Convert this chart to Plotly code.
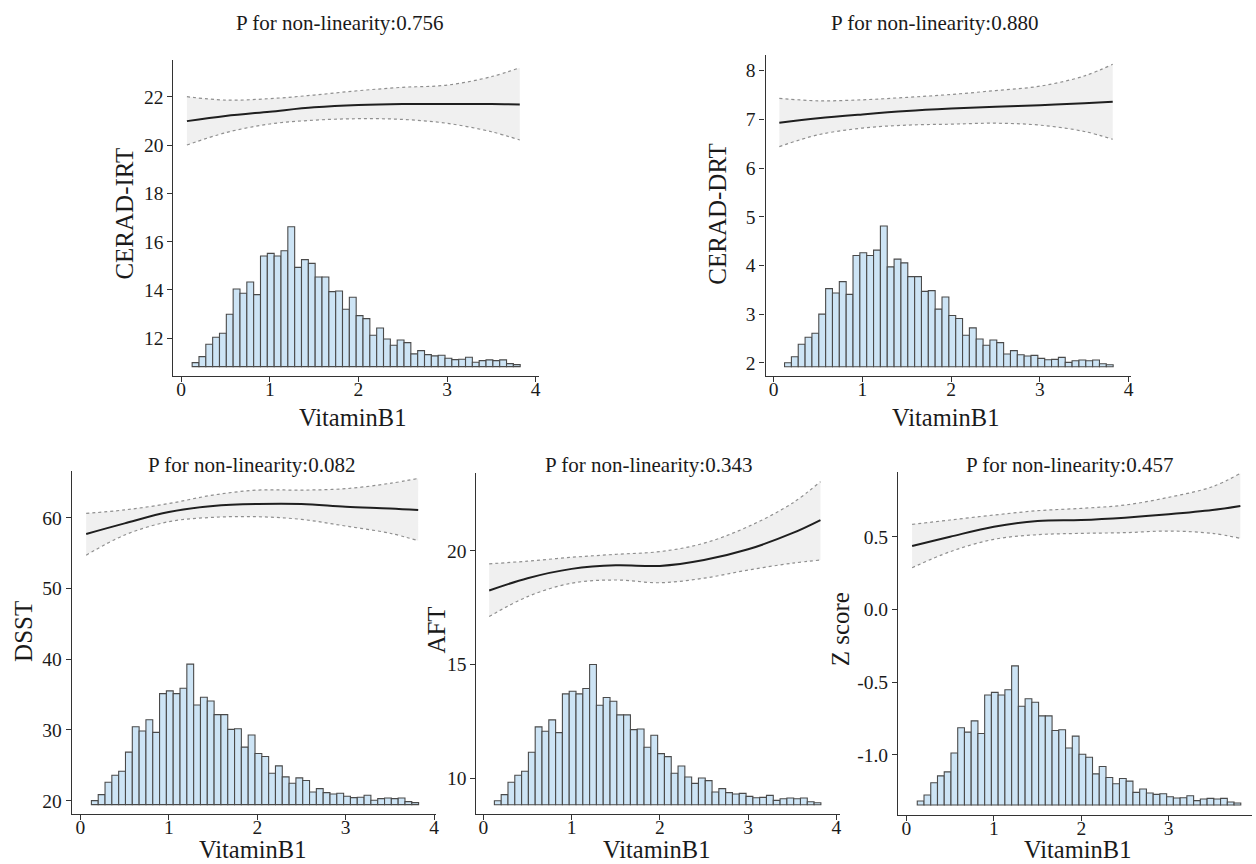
import plotly.graph_objects as go
import numpy as np

# ---------------- data ----------------
# VitaminB1 histogram (relative bar heights; 48 bins)
bin_start = 0.124
bin_width = 0.0771
hist_counts = [12, 30, 67, 88, 100, 157, 233, 220, 254, 216, 332, 340, 332, 348, 420, 298,
               321, 310, 269, 269, 225, 227, 172, 208, 153, 144, 94, 116, 83, 64, 80, 72,
               38, 48, 36, 32, 34, 25, 21, 22, 28, 13, 18, 20, 18, 20, 9, 6]

# Restricted cubic spline fits (estimate, upper / lower 95% CI)
curve_x = [0.065, 0.5, 1.0, 1.5, 2.0, 2.5, 3.0, 3.5, 3.82]

irt_fit = [20.99, 21.20, 21.38, 21.56, 21.66, 21.70, 21.70, 21.70, 21.68]
irt_upper = [22.00, 21.86, 21.92, 22.07, 22.25, 22.39, 22.48, 22.83, 23.20]
irt_lower = [20.00, 20.51, 20.87, 21.03, 21.09, 21.06, 20.90, 20.55, 20.21]

drt_fit = [6.93, 7.02, 7.10, 7.17, 7.22, 7.26, 7.29, 7.33, 7.36]
drt_upper = [7.43, 7.38, 7.40, 7.45, 7.51, 7.59, 7.68, 7.89, 8.13]
drt_lower = [6.44, 6.68, 6.82, 6.88, 6.90, 6.92, 6.88, 6.75, 6.59]

dsst_fit = [57.7, 59.2, 60.8, 61.65, 61.93, 61.93, 61.55, 61.3, 61.08]
dsst_upper = [60.6, 61.1, 62.0, 63.2, 63.9, 63.9, 64.1, 64.85, 65.55]
dsst_lower = [54.7, 57.55, 59.44, 60.05, 60.14, 59.76, 58.82, 57.8, 56.75]

aft_fit = [18.26, 18.80, 19.21, 19.37, 19.34, 19.60, 20.07, 20.78, 21.36]
aft_upper = [19.43, 19.55, 19.72, 19.85, 19.97, 20.34, 21.07, 22.10, 23.05]
aft_lower = [17.11, 17.99, 18.58, 18.72, 18.60, 18.80, 19.16, 19.46, 19.60]

z_fit = [0.436, 0.500, 0.569, 0.608, 0.615, 0.631, 0.654, 0.683, 0.711]
z_upper = [0.585, 0.615, 0.649, 0.679, 0.695, 0.718, 0.771, 0.844, 0.936]
z_lower = [0.287, 0.397, 0.482, 0.514, 0.523, 0.528, 0.539, 0.523, 0.489]

outcomes = ["CERAD-IRT", "CERAD-DRT", "DSST", "AFT", "Z score"]
p_values = ["0.756", "0.880", "0.082", "0.343", "0.457"]
x_label = "VitaminB1"
x_ticks = [0, 1, 2, 3, 4]

y_tickvals = [[12, 14, 16, 18, 20, 22], [2, 3, 4, 5, 6, 7, 8], [20, 30, 40, 50, 60],
              [10, 15, 20], [-1.0, -0.5, 0.0, 0.5]]
y_ticktext = [["12", "14", "16", "18", "20", "22"], ["2", "3", "4", "5", "6", "7", "8"],
              ["20", "30", "40", "50", "60"], ["10", "15", "20"], ["-1.0", "-0.5", "0.0", "0.5"]]

fits = [irt_fit, drt_fit, dsst_fit, aft_fit, z_fit]
uppers = [irt_upper, drt_upper, dsst_upper, aft_upper, z_upper]
lowers = [irt_lower, drt_lower, dsst_lower, aft_lower, z_lower]

# ---------------- layout (pixels) ----------------
W, H = 1256, 864
# plot area [x0, x1, ytop, ybottom]
panels_px = [(174, 541, 60, 376), (768, 1135, 55, 376), (72, 437, 471, 814),
             (478, 843, 473, 814), (901, 1256, 472, 815)]
x_ranges = [(-0.087, 4.04), (-0.09, 4.03), (-0.098, 4.017), (-0.079, 4.045), (-0.095, 3.953)]
y_ranges = [(10.44, 23.52), (1.73, 8.32), (18.12, 66.6), (8.42, 23.43), (-1.413, 0.945)]
hist_base = [10.83, 1.92, 19.44, 8.83, -1.344]
hist_peak = [16.62, 4.81, 39.3, 15.0, -0.388]
title_pos = [(341, 23), (937, 23), (252, 465), (651, 465), (1073, 465)]
# x-label: (center x, bottom of text box y)
xlab_pos = [(354, 432), (949, 432), (253, 864), (659, 864), (1081, 864)]
ylab_pos = [(125, 214), (720, 214), (23, 631), (437, 630), (843, 629)]

FONT = "Liberation Serif, Times New Roman, serif"
TXT = "#1a1a1a"
AX = "#333333"

counts = np.array(hist_counts, dtype=float)
centers = bin_start + bin_width * (np.arange(len(counts)) + 0.5)

fig = go.Figure()
annotations = []
for i in range(5):
    xa = "x" if i == 0 else f"x{i+1}"
    ya = "y" if i == 0 else f"y{i+1}"
    heights = counts / counts.max() * (hist_peak[i] - hist_base[i])
    fig.add_trace(go.Bar(x=centers, y=heights, base=hist_base[i], width=bin_width,
                         marker=dict(color="#cde4f5", line=dict(color="#4a4a4a", width=1.1)),
                         xaxis=xa, yaxis=ya, showlegend=False, hoverinfo="skip"))
    fig.add_trace(go.Scatter(x=curve_x, y=uppers[i], mode="lines",
                             line=dict(color="#8f8f8f", width=1.2, dash="dot", shape="spline"),
                             xaxis=xa, yaxis=ya, showlegend=False))
    fig.add_trace(go.Scatter(x=curve_x, y=lowers[i], mode="lines", fill="tonexty",
                             fillcolor="#f0f0f0",
                             line=dict(color="#8f8f8f", width=1.2, dash="dot", shape="spline"),
                             xaxis=xa, yaxis=ya, showlegend=False))
    fig.add_trace(go.Scatter(x=curve_x, y=fits[i], mode="lines",
                             line=dict(color="#1f1f1f", width=2, shape="spline"),
                             xaxis=xa, yaxis=ya, showlegend=False))

    x0, x1, yt, yb = panels_px[i]
    axis_common = dict(showline=True, linecolor=AX, linewidth=1.3, ticks="outside",
                       ticklen=5, tickwidth=1.1, tickcolor=AX, showgrid=False, zeroline=False,
                       tickfont=dict(family=FONT, size=19.5, color=TXT), fixedrange=True)
    fig.update_layout(**{
        ("xaxis" if i == 0 else f"xaxis{i+1}"): dict(
            domain=[x0 / W, x1 / W], range=list(x_ranges[i]), anchor=ya,
            tickvals=x_ticks, ticklabelstandoff=-10, **axis_common),
        ("yaxis" if i == 0 else f"yaxis{i+1}"): dict(
            domain=[1 - yb / H, 1 - yt / H], range=list(y_ranges[i]), anchor=xa,
            tickvals=y_tickvals[i], ticktext=y_ticktext[i], **axis_common),
    })

    tx, ty = title_pos[i]
    annotations.append(dict(text=f"P for non-linearity:{p_values[i]}", x=tx / W, y=1 - ty / H,
                            xref="paper", yref="paper", showarrow=False, xanchor="center",
                            yanchor="middle", font=dict(family=FONT, size=21, color=TXT)))
    lx, ly = xlab_pos[i]
    annotations.append(dict(text=x_label, x=lx / W, y=1 - ly / H, xref="paper", yref="paper",
                            showarrow=False, xanchor="center", yanchor="bottom",
                            borderpad=0, font=dict(family=FONT, size=24.5, color=TXT)))
    vx, vy = ylab_pos[i]
    annotations.append(dict(text=outcomes[i], x=vx / W, y=1 - vy / H, xref="paper", yref="paper",
                            showarrow=False, xanchor="center", yanchor="middle", textangle=-90,
                            font=dict(family=FONT, size=25, color=TXT)))

fig.update_layout(width=W, height=H, margin=dict(l=0, r=0, t=0, b=0),
                  paper_bgcolor="white", plot_bgcolor="white", annotations=annotations,
                  barmode="overlay", showlegend=False)

fig.write_html("out.html", config={"displayModeBar": False},
               post_script="document.body.style.margin='0px';")
